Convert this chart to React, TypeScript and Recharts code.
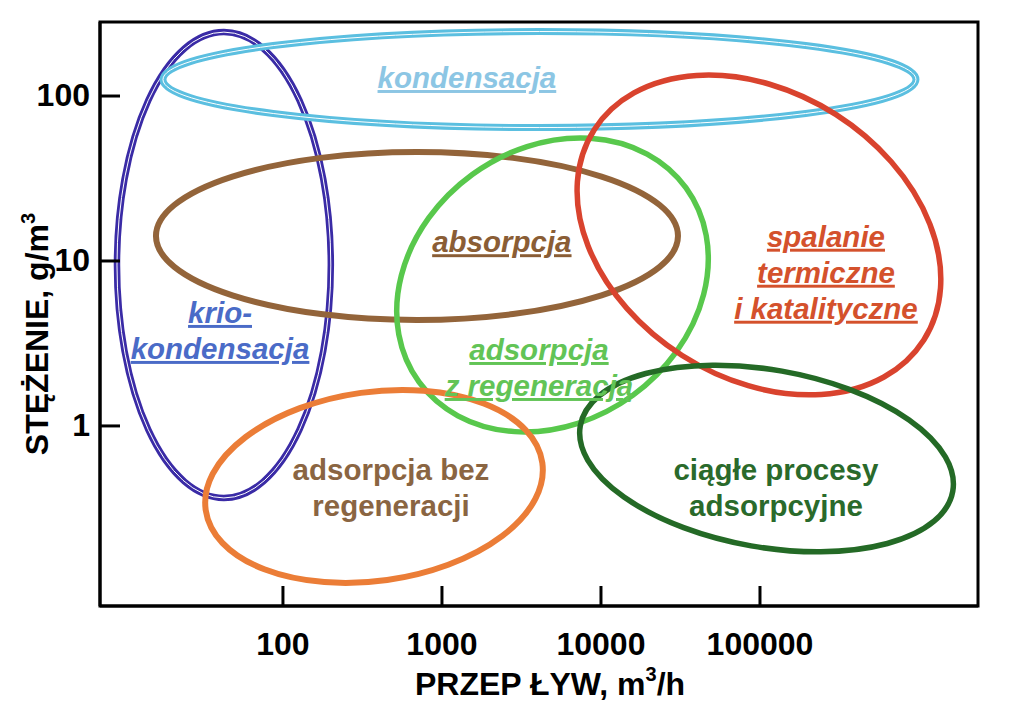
import React from "react"
import { ScatterChart, Scatter, XAxis, YAxis, ReferenceArea, Label } from "recharts"

const FONT = "'Liberation Sans', Arial, sans-serif"

// axes (log scales)
const X_TICKS = [100, 1000, 10000, 100000]
const Y_TICKS = [1, 10, 100]
const X_DOMAIN = [7.07, 2350000]
const Y_DOMAIN = [0.081, 281]

// ellipses: unrotated box in data units + tilt (deg)
const ELLIPSE_X1 = [9.04, 17.6, 15.9, 454, 5810, 31.9, 7110]
const ELLIPSE_X2 = [200, 957000, 30500, 54100, 1670000, 4380, 1700000]
const ELLIPSE_Y1 = [244, 246, 45.8, 48.1, 105.7, 1.607, 2.19]
const ELLIPSE_Y2 = [0.366, 64.4, 4.39, 1.065, 1.955, 0.115, 0.184]
const ELLIPSE_TILT = [0, 0, 0, -36, 32.5, -8, 10]

// region labels: anchor (first line baseline) in data units
const LABEL_LINES = [
  ["kondensacja"],
  ["absorpcja"],
  ["krio-", "kondensacja"],
  ["adsorpcja", "z regeneracją"],
  ["spalanie", "termiczne", "i katalityczne"],
  ["adsorpcja bez", "regeneracji"],
  ["ciągłe procesy", "adsorpcyjne"],
]
const LABEL_X = [1435, 2380, 40.2, 4075, 260000, 478, 126000]
const LABEL_Y = [111.8, 11.3, 4.21, 2.51, 12.2, 0.471, 0.471]

const ELLIPSE_STYLE = [
  { color: "#3a2ba6", width: 6.5, double: true },
  { color: "#5bbfe0", width: 7, double: true },
  { color: "#93643a", width: 6, double: false },
  { color: "#58c84c", width: 5.5, double: false },
  { color: "#d9432e", width: 5.5, double: false },
  { color: "#eb7d37", width: 6, double: false },
  { color: "#246a26", width: 5.5, double: false },
]

const LABEL_STYLE = [
  { color: "#8cc6e4", italic: true, underline: true },
  { color: "#8a5d35", italic: true, underline: true },
  { color: "#4a6bc7", italic: true, underline: true },
  { color: "#62c456", italic: true, underline: true },
  { color: "#d4512c", italic: true, underline: true },
  { color: "#8a6542", italic: false, underline: false },
  { color: "#2a6a2b", italic: false, underline: false },
]

const labelData = LABEL_X.map((x, i) => ({
  x,
  y: LABEL_Y[i],
  lines: LABEL_LINES[i],
  style: LABEL_STYLE[i],
}))

function EllipseShape(props: any) {
  const { x, y, width, height, tilt, color, strokeW, double } = props
  const cx = x + width / 2
  const cy = y + height / 2
  const t = `rotate(${tilt}, ${cx}, ${cy})`
  return (
    <g transform={t}>
      <ellipse cx={cx} cy={cy} rx={width / 2} ry={height / 2} fill="none" stroke={color} strokeWidth={strokeW} />
      {double && (
        <ellipse cx={cx} cy={cy} rx={width / 2} ry={height / 2} fill="none" stroke="#fff" strokeWidth={1} />
      )}
    </g>
  )
}

function RegionLabel(props: any) {
  const { cx, cy, payload } = props
  const s = payload.style
  return (
    <text
      textAnchor="middle"
      fontFamily={FONT}
      fontSize={29.5}
      fontWeight="bold"
      fontStyle={s.italic ? "italic" : "normal"}
      fill={s.color}
      style={{ textDecoration: s.underline ? "underline" : "none" }}
    >
      {payload.lines.map((l: string, j: number) => (
        <tspan key={j} x={cx} y={cy + j * 36}>
          {l}
        </tspan>
      ))}
    </text>
  )
}

function XTick(props: any) {
  const { x, y, payload } = props
  return (
    <g>
      <line x1={x} y1={y} x2={x} y2={y - 20} stroke="#000" strokeWidth={3} />
      <text x={x} y={y + 49} textAnchor="middle" fontFamily={FONT} fontSize={32} fontWeight="bold" fill="#000">
        {payload.value}
      </text>
    </g>
  )
}

function YTick(props: any) {
  const { x, y, payload } = props
  return (
    <g>
      <line x1={x} y1={y} x2={x + 20} y2={y} stroke="#000" strokeWidth={3} />
      <text x={x - 10} y={y + 10} textAnchor="end" fontFamily={FONT} fontSize={32} fontWeight="bold" fill="#000">
        {payload.value}
      </text>
    </g>
  )
}

function YTitle(props: any) {
  const vb = props.viewBox
  const cx = vb.x + 48
  const cy = vb.y + vb.height / 2 + 20
  return (
    <text
      transform={`translate(${cx},${cy}) rotate(-90)`}
      textAnchor="middle"
      fontFamily={FONT}
      fontSize={32}
      fontWeight="bold"
      fill="#000"
    >
      STĘŻENIE, g/m
      <tspan dy={-13} fontSize={20}>3</tspan>
    </text>
  )
}

function XTitle(props: any) {
  const vb = props.viewBox
  const cx = vb.x + vb.width / 2 + 11
  const cy = vb.y + 89
  return (
    <text x={cx} y={cy} textAnchor="middle" fontFamily={FONT} fontSize={32} fontWeight="bold" fill="#000">
      PRZEP ŁYW, m
      <tspan dy={-14} fontSize={20}>3</tspan>
      <tspan dy={14}>/h</tspan>
    </text>
  )
}

export default function App() {
  return (
    <div style={{ position: "absolute", left: 0, top: 0, width: 1024, height: 710, background: "#fff" }}>
      <ScatterChart width={1024} height={710} margin={{ top: 22, right: 46, left: 0, bottom: 0 }}>
        <XAxis
          type="number"
          dataKey="x"
          scale="log"
          domain={X_DOMAIN}
          allowDataOverflow
          ticks={X_TICKS}
          interval={0}
          height={104}
          tickSize={0}
          tickMargin={0}
          tickLine={false}
          axisLine={{ stroke: "#000", strokeWidth: 3 }}
          tick={<XTick />}
        >
          <Label content={<XTitle />} />
        </XAxis>
        <YAxis
          type="number"
          dataKey="y"
          scale="log"
          domain={Y_DOMAIN}
          allowDataOverflow
          ticks={Y_TICKS}
          interval={0}
          width={100}
          tickSize={0}
          tickMargin={0}
          tickLine={false}
          axisLine={{ stroke: "#000", strokeWidth: 3 }}
          tick={<YTick />}
        >
          <Label content={<YTitle />} />
        </YAxis>
        <ReferenceArea
          x1={X_DOMAIN[0]}
          x2={X_DOMAIN[1]}
          y1={Y_DOMAIN[0]}
          y2={Y_DOMAIN[1]}
          ifOverflow="visible"
          fill="none"
          stroke="#000"
          strokeWidth={3}
        />
        {ELLIPSE_X1.map((x1, i) => (
          <ReferenceArea
            key={i}
            x1={x1}
            x2={ELLIPSE_X2[i]}
            y1={ELLIPSE_Y1[i]}
            y2={ELLIPSE_Y2[i]}
            ifOverflow="visible"
            shape={(p: any) => (
              <EllipseShape
                {...p}
                tilt={ELLIPSE_TILT[i]}
                color={ELLIPSE_STYLE[i].color}
                strokeW={ELLIPSE_STYLE[i].width}
                double={ELLIPSE_STYLE[i].double}
              />
            )}
          />
        ))}
        <Scatter data={labelData} isAnimationActive={false} shape={<RegionLabel />} />
      </ScatterChart>
    </div>
  )
}
